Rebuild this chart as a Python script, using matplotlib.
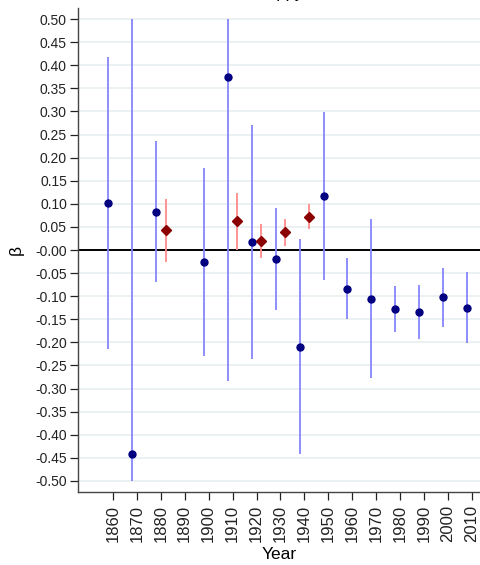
import numpy as np
import matplotlib
matplotlib.use("Agg")
import matplotlib.pyplot as plt

plt.rcParams['font.family'] = ['Liberation Sans', 'DejaVu Sans']

# blue series (circles)
blue_year = [1860, 1870, 1880, 1900, 1910, 1920, 1930, 1940, 1950,
             1960, 1970, 1980, 1990, 2000, 2010]
blue_beta = [0.102, -0.441, 0.083, -0.027, 0.375, 0.017, -0.019, -0.210, 0.117,
             -0.084, -0.105, -0.128, -0.134, -0.102, -0.125]
blue_lo = [-0.214, -0.50, -0.069, -0.229, -0.283, -0.237, -0.130, -0.442, -0.065,
           -0.150, -0.277, -0.178, -0.192, -0.166, -0.202]
blue_hi = [0.418, 0.50, 0.235, 0.178, 0.50, 0.271, 0.091, 0.024, 0.298,
           -0.018, 0.067, -0.077, -0.076, -0.039, -0.048]

# red series (diamonds)
red_year = [1880, 1910, 1920, 1930, 1940]
red_beta = [0.043, 0.063, 0.019, 0.039, 0.071]
red_lo = [-0.027, 0.001, -0.017, 0.009, 0.045]
red_hi = [0.111, 0.123, 0.057, 0.067, 0.100]

xticks = list(range(1860, 2011, 10))
yticks = np.round(np.arange(-0.50, 0.501, 0.05), 2)

fig = plt.figure(figsize=(4.81, 5.65), dpi=100)
ax = fig.add_axes([0.1622, 0.1292, 0.8378, 0.8566])

for y in yticks:
    ax.axhline(y, color='#e8eef1', lw=1.2, zorder=0)
ax.axhline(0, color='black', lw=1.4, zorder=1)

bx = np.array(blue_year) - 2
rx = np.array(red_year) + 2
ax.vlines(bx, blue_lo, blue_hi, color='#8585ff', lw=1.3, zorder=2)
ax.vlines(rx, red_lo, red_hi, color='#ff8a8a', lw=1.3, zorder=2)
ax.plot(bx, blue_beta, 'o', color='#000080', ms=5, zorder=3)
ax.plot(rx, red_beta, 'D', color='#8b0000', ms=5, zorder=3)

ax.set_xlim(1845.4, 2013.8)
ax.set_ylim(-0.524, 0.524)
ax.set_xticks(xticks)
ax.set_xticklabels([str(x) for x in xticks], rotation=90, fontsize=12)
ax.set_yticks(yticks)
ax.set_yticklabels(['%.2f' % v for v in yticks], fontsize=10)
ax.tick_params(axis='y', length=6, width=0.9, pad=2, colors='#222222')
ax.tick_params(axis='x', length=6, width=0.9, pad=3, colors='#222222')

for s in ['top', 'right']:
    ax.spines[s].set_visible(False)
for s in ['left', 'bottom']:
    ax.spines[s].set_color('#444444')
    ax.spines[s].set_linewidth(1.0)

ax.set_xlabel('Year', fontsize=12.5, labelpad=4)
ax.set_ylabel('β', fontsize=12.5, labelpad=8)
# title sits mostly above the figure edge, as in the source image
ax.set_title('Happy', fontsize=12, pad=7)

fig.savefig('out.png', dpi=100)
